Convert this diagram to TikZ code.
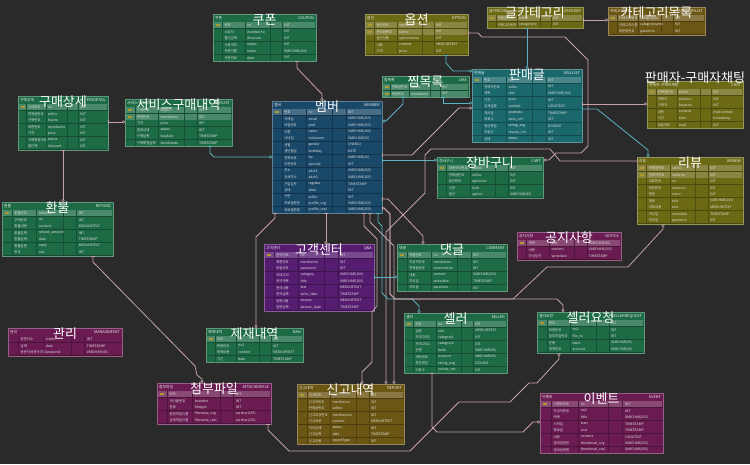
\documentclass[tikz,border=0pt]{standalone}
\usepackage{fontspec}
\setmainfont{Noto Sans CJK KR}
\usetikzlibrary{arrows.meta}
\definecolor{bgdark}{HTML}{2A2A2A}
\definecolor{tgreen}{HTML}{1D6B45}
\definecolor{tblue}{HTML}{1A4868}
\definecolor{tteal}{HTML}{1B686C}
\definecolor{tolive}{HTML}{6B6914}
\definecolor{tbrown}{HTML}{6B5614}
\definecolor{tpurple}{HTML}{561C70}
\definecolor{tmagenta}{HTML}{6A1C52}
\definecolor{relpink}{HTML}{C7A2AB}
\definecolor{idteal}{HTML}{5BB3C2}
\definecolor{keygold}{HTML}{B09A30}
\tikzset{
  cell/.style={inner sep=0pt, anchor=west, font=\fontsize{3.4}{4}\selectfont, text=white!78!gray},
  hdr/.style={inner sep=0pt, font=\fontsize{3.8}{4}\selectfont, text=white!88!gray},
  bigtitle/.style={inner sep=0pt, font=\fontsize{13}{13}\selectfont, text=white},
  rel/.style={draw=relpink, line width=0.8pt, {Bar[width=4pt,line width=0.5pt]}-{Circle[open,length=3pt,width=3pt,line width=0.5pt]}},
  idrel/.style={rel, draw=idteal},
}
\newcommand{\erdtitley}{6}
% [key rows]{name}{x}{y}{width}{colour}{ENGLISH}{title}{rows}
\newcommand{\erdtable}[9][1]{%
  \fill[#6] (#3,#4) rectangle ++(#5,8);
  \node[hdr, anchor=west] at (#3+2,#4+4) {#8};
  \node[hdr, anchor=east] at (#3+#5-2,#4+4) {#7};
  \foreach \kor/\eng/\typ [count=\i] in {#9} {
    \pgfmathsetmacro\rt{#4+8+(\i-1)*6.5}
    \fill[#6] (#3,\rt) rectangle ++(#5,6.5);
    \ifnum\i>#1\relax\else
      \fill[#6!80!white] (#3+1,\rt+0.4) rectangle ++(#5-2,5.7);
      \fill[keygold] (#3+2.5,\rt+2.4) rectangle ++(4,1.8);
    \fi
    \draw[#6!70!black, line width=0.2pt] (#3,\rt+6.5) -- ++(#5,0);
    \foreach \c in {0.09,0.31,0.55,0.67}
      \draw[#6!75!black, line width=0.2pt] (#3+\c*#5,\rt) -- ++(0,6.5);
    \node[cell] at (#3+0.11*#5,\rt+3.25) {\kor};
    \node[cell] at (#3+0.33*#5,\rt+3.25) {\eng};
    \node[cell] at (#3+0.69*#5,\rt+3.25) {\typ};
    \xdef\erdn{\i}
  }
  \node[draw=#6!70!white, line width=0.4pt, inner sep=0pt, minimum width=#5pt,
        minimum height={(8+\erdn*6.5)*1pt}, anchor=north west] (#2) at (#3,#4) {};
  \node[bigtitle] at (#3+#5/2,#4+\erdtitley) {#8};
}
\begin{document}
\begin{tikzpicture}[x=1pt,y=-1pt,line join=round,line cap=round]
\useasboundingbox[fill=bgdark] (0,0) rectangle (750,464);
% tables
\erdtable{coupon}{213}{14}{103}{tgreen}{COUPON}{쿠폰}{번호/no/INT, 소유자/memberno/INT, 할인금액/discount/INT, 사용여부/status/INT, 쿠폰이름/name/VARCHAR(100), 쿠폰만료/date/INT}
\erdtable[2]{option}{365}{14}{103}{tolive}{OPTION}{옵션}{옵션번호/optionno/INT, 판매글번호/sellno/INT, 옵션상품/optionname/INT, 내용/content/MEDIUMTEXT, 가격/price/INT}
\erdtable{category}{487}{7}{96}{tolive}{CATEGORY}{글카테고리}{판매글번호/sellno/INT, 카테고리번호/categoryno/INT}
\erdtable{categorylist}{608}{7}{97}{tbrown}{CATEGORYLIST}{카테고리목록}{카테고리번호/categoryno/INT, 카테고리이름/categoryname/INT, 대분류번호/parentno/INT}
\erdtable{paydetail}{18}{96}{90}{tgreen}{PAYDETAIL}{구매상세}{상세번호/no/INT, 판매글번호/sellno/INT, 구매번호/buyno/INT, 회원번호/memberno/INT, 가격/price/INT, 구매확정여부/status/INT, 할인액/discount/INT}
\erdtable[2]{buylist}{125}{99}{107}{tgreen}{BUYLIST}{서비스구매내역}{구매번호/buyno/INT, 회원번호/memberno/INT, 가격/price/INT, 결제상태/status/INT, 구매날짜/buydate/TIMESTAMP, 구매확정날짜/decidedate/TIMESTAMP}
\erdtable{member}{272}{101}{110}{tblue}{MEMBER}{멤버}{번호/no/INT, 이메일/email/VARCHAR(255), 비밀번호/pwd/VARCHAR(255), 이름/name/VARCHAR(100), 닉네임/nickname/VARCHAR(50), 성별/gender/CHAR(1), 생년월일/birthday/DATE, 전화번호/hp/VARCHAR(20), 우편번호/zipcode/INT, 주소/addr1/VARCHAR(255), 상세주소/addr2/VARCHAR(255), 가입일자/regdate/TIMESTAMP, 상태/state/INT, 구분/seller/INT, 프로필원본/profile\_org/VARCHAR(255), 프로필변환/profile\_real/VARCHAR(255)}
\erdtable[2]{like}{382}{76}{87}{tgreen}{LIKE}{찜목록}{판매글번호/sellno/INT, 회원번호/memberno/INT}
\erdtable{selllist}{472}{69}{110}{tteal}{SELLLIST}{판매글}{번호/no/INT, 판매자번호/seller/INT, 제목/title/VARCHAR(100), 가격/price/INT, 상세설명/content/LONGTEXT, 게시일/postdate/TIMESTAMP, 조회수/view\_cnt/INT, 평균평점/rating\_avg/DOUBLE, 리뷰수/review\_cnt/INT, 상태/status/INT}
\renewcommand{\erdtitley}{-3}
\erdtable{chat}{647}{81}{96}{tolive}{CHAT}{판매자-구매자채팅}{판매글번호/sellno/INT, 판매자/sellerno/INT, 구매자/buyerno/INT, 내용/content/mediumtext, 시간/time/timestamp, 읽음여부/read/INT}
\renewcommand{\erdtitley}{6}
\erdtable{cart}{437}{157}{106}{tgreen}{CART}{장바구니}{장바구니번호/cartno/INT, 판매글번호/sellno/INT, 옵션번호/optionno/INT, 수량/field/INT, 옵션/option/VARCHAR(45)}
\erdtable[2]{review}{637}{157}{106}{tolive}{REVIEW}{리뷰}{판매글번호/sellno/INT, 판매자번호/sellerno/INT, 리뷰번호/no/INT, 회원번호/writerno/INT, 평점/score/INT, 제목/title/VARCHAR(100), 리뷰내용/text/MEDIUMTEXT, 작성일/writedate/TIMESTAMP, 부모글/parentno/INT}
\erdtable{refund}{2}{202}{111}{tgreen}{REFUND}{환불}{환불번호/refundno/INT, 구매번호/no/INT, 환불내용/content/MEDIUMTEXT, 환불금액/refund\_amount/INT, 환불날짜/date/TIMESTAMP, 환불답변/reply/MEDIUMTEXT, 번호/no2/INT}
\erdtable{qna}{264}{244}{110}{tpurple}{Q\&A}{고객센터}{문의번호/no/INT, 회원번호/memberno/INT, 비밀번호/password/INT, 카테고리/category/VARCHAR(100), 문의제목/title/VARCHAR(100), 문의내용/text/MEDIUMTEXT, 문의날짜/write\_date/TIMESTAMP, 답변내용/answer/MEDIUMTEXT, 답변날짜/answer\_date/TIMESTAMP}
\erdtable{comment}{397}{244}{110}{tgreen}{COMMENT}{댓글}{댓글번호/no/INT, 작성자번호/memberno/INT, 판매글번호/commentno/INT, 내용/content/VARCHAR(255), 작성일/writedate/TIMESTAMP, 부모글/parentno/INT}
\erdtable{notice}{517}{232}{104}{tmagenta}{NOTICE}{공지사항}{제목/title/VARCHAR(45), 내용/content/VARCHAR(255), 작성일자/writedate/TIMESTAMP}
\erdtable{seller}{404}{313}{103}{tgreen}{SELLER}{셀러}{번호/no/INT, 설명/info/MEDIUMTEXT, 카테고리1/category1/INT, 카테고리2/category2/INT, 은행/bank/VARCHAR(45), 계좌번호/account/VARCHAR(45), 평균평점/rating\_avg/DOUBLE, 리뷰수/review\_cnt/INT}
\erdtable{sellerreq}{537}{312}{107}{tgreen}{SELLERREQUEST}{셀러요청}{번호/no/INT, 회원번호/no2/INT, 첨부파일번호/file\_no/INT, 은행/bank/VARCHAR(45), 계좌번호/account/VARCHAR(45)}
\erdtable[0]{management}{8}{328}{114}{tmagenta}{MANAGEMENT}{관리}{방문자수/visitor/INT, 날짜/date/TIMESTAMP, 방문자세션아이디/sessionid/VARCHAR(45)}
\erdtable{ban}{206}{328}{97}{tgreen}{BAN}{제재내역}{번호/no/INT, 회원번호/no2/INT, 제재내용/content/MEDIUMTEXT, 기간/date/TIMESTAMP}
\erdtable{attached}{157}{383}{114}{tmagenta}{ATTACHEDFILE}{첨부파일}{번호/no/INT, 게시물번호/boardno/INT, 분류/filetype/INT, 원본파일이름/filename\_org/varchar(255), 실제파일이름/filename\_real/varchar(255)}
\erdtable{report}{297}{384}{107}{tbrown}{REPORT}{신고내역}{신고번호/no/INT, 신고자번호/memberno/INT, 판매글번호/sellno/INT, 신고대상번호/memberno2/INT, 신고내용/content/MEDIUMTEXT, 처리상태/status/INT, 신고날짜/date/TIMESTAMP, 신고유형/reportType/INT}
\erdtable{event}{540}{393}{123}{tmagenta}{EVENT}{이벤트}{이벤트번호/no/INT, 작성자번호/no2/INT, 제목/title/VARCHAR(255), 시작일/start/TIMESTAMP, 종료일/end/TIMESTAMP, 내용/content/LONGTEXT, 썸네일원본/thumbnail\_org/VARCHAR(255), 썸네일변환/thumbnail\_real/VARCHAR(255)}
% relations
\draw[rel] (paydetail.east |- 0,122) -- (buylist.west |- 0,122);
\draw[rel] (paydetail.south -| 63,0) -- (refund.north -| 63,0);
\draw[idrel] (buylist.south -| 210,0) -- (210,153) -- (214,157) -- (member.west |- 0,157);
\draw[rel] (coupon.south -| 297,0) -- (297,68) -- (318,90) -- (322,94) -- (member.north -| 322,0);
\draw[idrel] (option.south -| 446,0) -- (446,63) -- (453,71) -- (selllist.west |- 0,71);
\draw[rel] (option.east |- 0,33) -- (478,33) -- (482,37) -- (565,37) -- (588,60) -- (588,146) -- (581,153) -- (556,153) -- (549,160) -- (cart.east |- 0,160);
\draw[idrel] (category.south -| 527,0) -- (selllist.north -| 527,0);
\draw[rel] (category.east |- 0,20) -- (categorylist.west |- 0,20);
\draw[rel] (selllist.east |- 0,104) -- (chat.west |- 0,104);
\draw[idrel] (selllist.east |- 0,109) -- (597,109) -- (648,150) -- (review.north -| 648,0);
\draw[idrel] (like.south -| 403,0) -- (403,104) -- (386,121) -- (member.east |- 0,121);
\draw[idrel] (like.south -| 443,0) -- (443,103) -- (selllist.west |- 0,103);
\draw[rel] (member.east |- 0,155) -- (412,155) -- (459,108) -- (selllist.west |- 0,108);
\draw[idrel] (member.east |- 0,160) -- (cart.west |- 0,160);
\draw[rel] (member.east |- 0,199) -- (388,199) -- (423,236) -- (comment.north -| 423,0);
\draw[rel] (review.west |- 0,161) -- (560,161) -- (550,149) -- (431,149) -- (425,155) -- (425,193) -- (386,232) -- (report.north -| 386,0);
\draw[rel] (member.south -| 326,0) -- (qna.north -| 326,0);
\draw[rel] (member.south -| 275,0) -- (275,218) -- (256,237) -- (ban.north -| 256,0);
\draw[rel] (member.south -| 364,0) -- (364,226) -- (377,239) -- (377,306) -- (372,312) -- (372,362) -- (362,372) -- (report.north -| 362,0);
\draw[rel] (member.south -| 370,0) -- (370,222) -- (394,246) -- (report.north -| 394,0);
\draw[idrel] (member.south -| 378,0) -- (378,222) -- (382,226) -- (382,293) -- (388,299) -- (412,299) -- (419,306) -- (seller.north -| 419,0);
\draw[rel] (member.east |- 0,208) -- (384,208) -- (390,214) -- (390,294) -- (395,299) -- (513,299) -- (547,267) -- (628,267) -- (663,229) -- (review.south -| 663,0);
\draw[rel] (member.east |- 0,208) -- (384,208) -- (390,214) -- (390,294) -- (395,299) -- (557,299) -- (563,305) -- (sellerreq.north -| 563,0);
\draw[idrel] (qna.east |- 0,277) -- (comment.west |- 0,277);
\draw[rel] (refund.south -| 93,0) -- (93,262) -- (195,366) -- (197,375) -- (202,379) -- (attached.north -| 202,0);
\draw[rel] (attached.south -| 268,0) -- (268,430) -- (289,451) -- (410,451) -- (459,402) -- (510,402) -- (529,383) -- (537,383) -- (559,359) -- (sellerreq.south -| 559,0);
\draw[rel] (seller.south -| 432,0) -- (432,427) -- (437,432) -- (523,432) -- (533,422) -- (event.west |- 0,422);
\end{tikzpicture}
\end{document}
